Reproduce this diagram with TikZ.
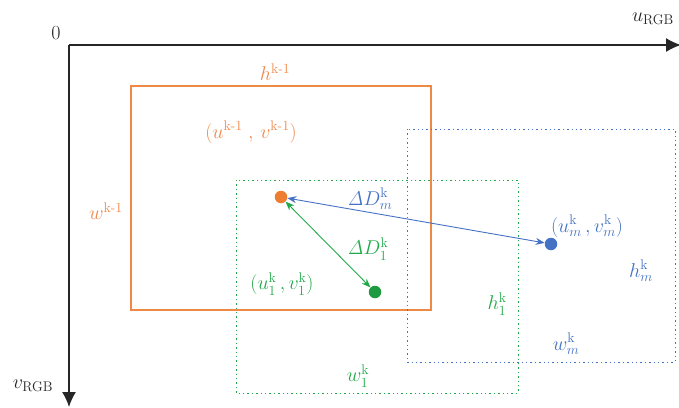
\documentclass[tikz,border=0pt]{standalone}
\usepackage{fix-cm}
\usepackage{amsmath}
\usetikzlibrary{arrows.meta}
\definecolor{corange}{HTML}{ED7D31}
\definecolor{cotext}{HTML}{F0884A}
\definecolor{cgreen}{HTML}{22AA4A}
\definecolor{cdgreen}{HTML}{1E9A40}
\definecolor{cblue}{HTML}{4472C4}
\begin{document}
\begin{tikzpicture}[x=1pt,y=-1pt,
  lbl/.style={inner sep=0pt,font=\fontsize{20}{22}\selectfont},
  axis/.style={line width=1.4pt,black!85,-{Latex[length=15pt,width=14pt]}},
  dotbox/.style={line width=1pt,dash pattern=on 1.4pt off 3pt},
  pt/.style={circle,inner sep=0pt,minimum size=12.5pt},
  conn/.style={line width=0.9pt,{Stealth[length=9pt,width=7pt]}-{Stealth[length=9pt,width=7pt]}}]
\useasboundingbox (0,0) rectangle (679,407);
% axes
\coordinate (O) at (69,45);
\coordinate (U) at (681,45);
\coordinate (V) at (69,407);
\draw[axis] (O) -- (U);
\draw[axis] (O) -- (V);
\node[lbl,black!85] (zero) at (56,33) {0};
\node[lbl,black!85] (ulab) at (653,19) {$u_{\mathrm{RGB}}$};
\node[lbl,black!85] (vlab) at (33,386) {$v_{\mathrm{RGB}}$};
% rectangles
\draw[corange!90,line width=1.2pt] (131,86) rectangle (431,310);
\draw[cgreen,dotbox] (236,180) rectangle (518,393);
\draw[cblue,dotbox] (407,129) rectangle (675,362);
% orange labels
\node[lbl,cotext] (hk1) at (275,72) {$h^{\mathrm{k\text{-}1}}$};
\node[lbl,cotext] (uvk1) at (251,132) {$(u^{\mathrm{k\text{-}1}}\;,\,v^{\mathrm{k\text{-}1}})$};
\node[lbl,cotext] (wk1) at (106,211) {$w^{\mathrm{k\text{-}1}}$};
% points
\node[pt,fill=corange] (po) at (281,197) {};
\node[pt,fill=cdgreen] (pg) at (375,292) {};
\node[pt,fill=cblue] (pb) at (551,244) {};
% connectors
\draw[conn,cblue] (po) -- (pb);
\draw[conn,cgreen] (po) -- (pg);
% green labels
\node[lbl,cgreen] (dD1) at (368,249) {$\mathit{\Delta}D_{1}^{\mathrm{k}}$};
\node[lbl,cgreen] (uv1) at (282,284) {$(u_{1}^{\mathrm{k}}\,,v_{1}^{\mathrm{k}})$};
\node[lbl,cgreen] (h1) at (497,304) {$h_{1}^{\mathrm{k}}$};
\node[lbl,cgreen] (w1) at (358,376) {$w_{1}^{\mathrm{k}}$};
% blue labels
\node[lbl,cblue] (dDm) at (370,199) {$\mathit{\Delta}D_{m}^{\mathrm{k}}$};
\node[lbl,cblue] (uvm) at (587,226) {$(u_{m}^{\mathrm{k}}\,,v_{m}^{\mathrm{k}})$};
\node[lbl,cblue] (hm) at (641,271) {$h_{m}^{\mathrm{k}}$};
\node[lbl,cblue] (wm) at (566,344) {$w_{m}^{\mathrm{k}}$};
\end{tikzpicture}
\end{document}
